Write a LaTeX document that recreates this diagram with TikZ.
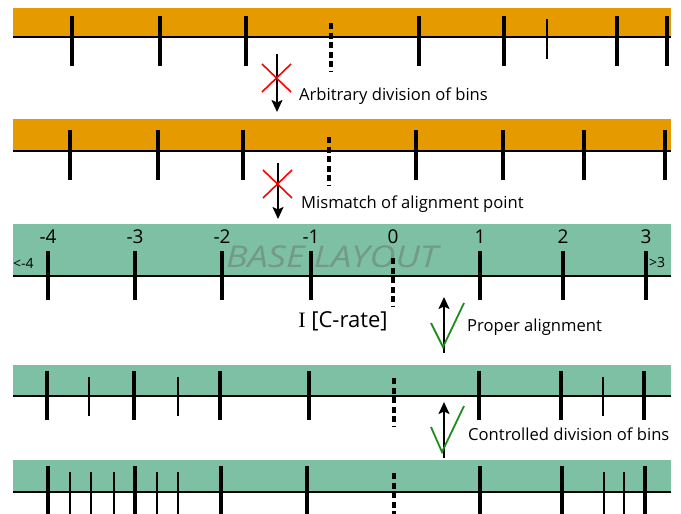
\documentclass[tikz,border=0pt]{standalone}
\usepackage{fontspec}
\setmainfont{Open Sans}
\usetikzlibrary{arrows.meta}
\definecolor{bandorange}{HTML}{E59A00}
\definecolor{bandgreen}{HTML}{7EC0A3}
\definecolor{checkgreen}{HTML}{1E8C1E}
\definecolor{watermark}{HTML}{72998A}
\tikzset{
  axisline/.style={line width=2.8pt,black},
  bigtick/.style={line width=4pt,black},
  smalltick/.style={line width=2pt,black},
  dashtick/.style={line width=4pt,black,dash pattern=on 6pt off 3.5pt},
  flowarrow/.style={line width=1.8pt,black,-{Stealth[length=12pt,width=11pt,inset=2.5pt]}},
  redx/.style={line width=1.6pt,red},
  greencheck/.style={line width=1.8pt,checkgreen},
  lbl/.style={font=\fontsize{16.6}{18}\selectfont,anchor=west,inner sep=0pt},
  numlbl/.style={font=\fontsize{19}{21}\selectfont,inner sep=0pt},
  sidelbl/.style={font=\fontsize{14}{16}\selectfont,inner sep=0pt}
}
\begin{document}
\begin{tikzpicture}[x=1pt,y=-1pt]
\useasboundingbox (0,0) rectangle (681,514);
\clip (0,0) rectangle (681,514);

% ---------- Row 1 ----------
\fill[bandorange] (13,8) rectangle (671,37);
\draw[axisline] (13,37) -- (671,37);
\foreach \x in {72,160,246,419,504,617,667} \draw[bigtick] (\x,16) -- (\x,66);
\draw[smalltick] (547,19) -- (547,59);
\draw[dashtick] (331,23) -- (331,71);

% arrow 1
\coordinate (a1s) at (277,54);
\coordinate (a1e) at (277,112);
\draw[flowarrow] (a1s) -- (a1e);
\draw[redx] (262,64) -- (291,92) (291,64) -- (262,92);
\node[lbl] (t1) at (299,96) {Arbitrary division of bins};

% ---------- Row 2 ----------
\fill[bandorange] (13,119) rectangle (671,151);
\draw[axisline] (13,151) -- (671,151);
\foreach \x in {70,158,243,416,503,584,665} \draw[bigtick] (\x,130) -- (\x,180);
\draw[dashtick] (329,137) -- (329,185);

% arrow 2
\coordinate (a2s) at (278,163);
\coordinate (a2e) at (278,219);
\draw[flowarrow] (a2s) -- (a2e);
\draw[redx] (263,170) -- (292,198) (292,170) -- (263,198);
\node[lbl] (t2) at (301,204) {Mismatch of alignment point};

% ---------- Row 3 (base layout) ----------
\fill[bandgreen] (13,224) rectangle (671,276);
\node[font=\fontsize{30}{32}\selectfont\itshape,text=watermark,inner sep=0pt,xscale=1.2] (wm) at (332,257) {BASE LAYOUT};
\draw[axisline] (13,276) -- (671,276);
\foreach \x/\l in {48/-4,135/-3,222/-2,311/-1,393/0,480/1,563/2,646/3}
  \node[numlbl] (n\l) at (\x,237) {\l};
\foreach \x in {48,135,222,311,480,563,646} \draw[bigtick] (\x,251) -- (\x,300);
\draw[dashtick] (393,258) -- (393,306);
\node[sidelbl,anchor=west] (lt) at (13,263) {<-4};
\node[sidelbl,anchor=west] (gt) at (649,262) {>3};
\node[font=\fontsize{22}{24}\selectfont,inner sep=0pt] (crate) at (343,321) {{\fontspec{Liberation Serif}I} [C-rate]};

% arrow 3
\coordinate (a3s) at (444,353);
\coordinate (a3e) at (444,297);
\draw[flowarrow] (a3s) -- (a3e);
\draw[greencheck] (431,323) -- (443,347) -- (464,303);
\node[lbl] (t3) at (467,327) {Proper alignment};

% ---------- Row 4 ----------
\fill[bandgreen] (13,365) rectangle (671,396);
\draw[axisline] (13,396) -- (671,396);
\foreach \x in {47,134,220,309,479,561,644} \draw[bigtick] (\x,371) -- (\x,420);
\foreach \x in {89,178,603} \draw[smalltick] (\x,377) -- (\x,416);
\draw[dashtick] (394,378) -- (394,426);

% arrow 4
\coordinate (a4s) at (444,458);
\coordinate (a4e) at (444,402);
\draw[flowarrow] (a4s) -- (a4e);
\draw[greencheck] (431,427) -- (442,452) -- (464,406);
\node[lbl] (t4) at (468,434) {Controlled division of bins};

% ---------- Row 5 ----------
\fill[bandgreen] (13,460) rectangle (671,492);
\draw[axisline] (13,492) -- (671,492);
\foreach \x in {48,135,221,307,480,562,645} \draw[bigtick] (\x,466) -- (\x,520);
\foreach \x in {70,91,114,157,178,604,624} \draw[smalltick] (\x,472) -- (\x,520);
\draw[dashtick] (394,473) -- (394,520);
\end{tikzpicture}
\end{document}
